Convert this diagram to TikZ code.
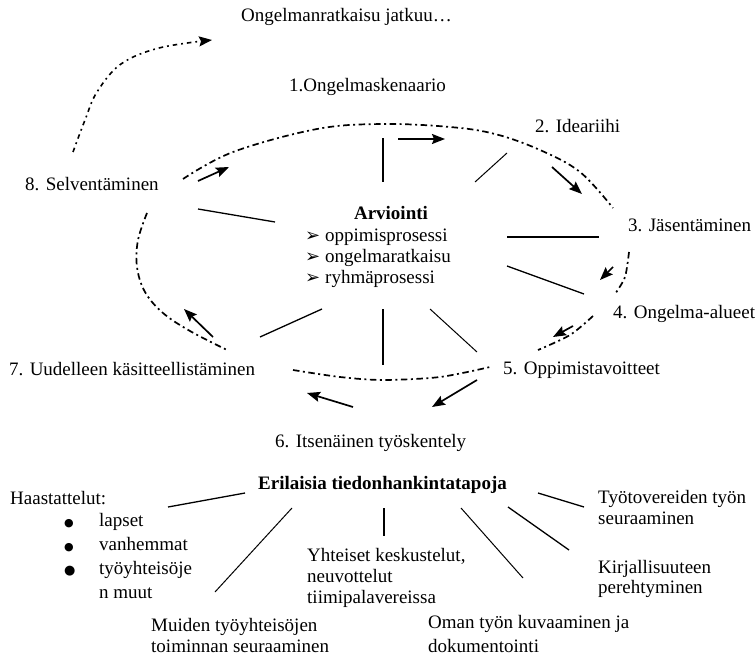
\documentclass[tikz,border=0pt]{standalone}
\usepackage{fontspec}
\setmainfont{Liberation Serif}
\newfontfamily\dingfont{DejaVu Sans}
\usetikzlibrary{arrows.meta}
% fixed height for the first line of a multi-line label: its top lies 18pt above the baseline
\newcommand{\topstrut}{\rule{0pt}{18pt}}
\newcommand{\itemmark}{\makebox[20pt][l]{\dingfont\fontsize{18}{18}\selectfont ➢}}
\newcommand{\dotmark}[1]{\makebox[35pt][l]{\dingfont\fontsize{#1}{#1}\selectfont ●}}
\begin{document}
\begin{tikzpicture}[x=1pt,y=-1pt,
  lbl/.style={inner sep=0pt, anchor=base west, align=left,
    font=\fontsize{19}{21}\selectfont},
  block/.style={lbl, anchor=north west},
  spoke/.style={line width=1.3pt},
  thinspoke/.style={line width=1pt},
  flow/.style={line width=1.7pt, -{Stealth[length=13pt,width=10pt,inset=2pt]}},
  cyclepath/.style={line width=1.7pt, dash pattern=on 6.5pt off 3.5pt on 2pt off 3.5pt},
  onward/.style={line width=1.6pt, dash pattern=on 4.5pt off 4pt on 1.8pt off 4pt,
    -{Stealth[length=13pt,width=10pt,inset=2pt]}}]
\useasboundingbox (0,0) rectangle (755,655);

% ---------- stages of the problem-based learning cycle ----------
\node[lbl] (cont) at (241,22) {Ongelmanratkaisu jatkuu…};
\node[lbl] (s1) at (289,92) {1.Ongelmaskenaario};
\node[lbl] (s2) at (535,133) {2. Ideariihi};
\node[lbl] (s3) at (628,232) {3. Jäsentäminen};
\node[lbl] (s4) at (613,318) {4. Ongelma-alueet};
\node[lbl] (s5) at (503,374) {5. Oppimistavoitteet};
\node[lbl] (s6) at (275,447) {6. Itsenäinen työskentely};
\node[lbl] (s7) at (9,375) {7. Uudelleen käsitteellistäminen};
\node[lbl] (s8) at (25,191) {8. Selventäminen};

% ---------- evaluation hub ----------
\node[lbl, anchor=base, font=\fontsize{19}{21}\selectfont\bfseries] (arv) at (391,220) {Arviointi};
\node[block] (arvlist) at (305,223)
  {\topstrut\itemmark oppimisprosessi\\ \itemmark ongelmaratkaisu\\ \itemmark ryhmäprosessi};

% ---------- ways of gathering information ----------
\node[lbl, font=\fontsize{19}{21}\selectfont\bfseries] (tools) at (258,489) {Erilaisia tiedonhankintatapoja};
\node[lbl] (haast) at (10,504) {Haastattelut:};
\node[block, font=\fontsize{19}{24}\selectfont] (haastlist) at (64,508)
  {\topstrut\dotmark{11}lapset\\ \dotmark{11}vanhemmat\\ \dotmark{13}työyhteisöje\\ \hspace*{35pt}n muut};
\node[block] (yht) at (307,543) {\topstrut Yhteiset keskustelut,\\ neuvottelut\\ tiimipalavereissa};
\node[block] (muid) at (151,613) {\topstrut Muiden työyhteisöjen\\ toiminnan seuraaminen};
\node[block, font=\fontsize{19}{24}\selectfont] (oman) at (428,610) {\topstrut Oman työn kuvaaminen ja\\ dokumentointi};
\node[block] (tyot) at (598,485) {\topstrut Työtovereiden työn\\ seuraaminen};
\node[block, font=\fontsize{19}{20}\selectfont] (kirj) at (598,555) {\topstrut Kirjallisuuteen\\ perehtyminen};

% ---------- spoke end points ----------
\coordinate (h1) at (383,182); \coordinate (o1) at (383,138);
\coordinate (h2) at (475,182); \coordinate (o2) at (507,153);
\coordinate (h3) at (275,222); \coordinate (o3) at (198,209);
\coordinate (h4) at (507,237); \coordinate (o4) at (599,237);
\coordinate (h5) at (507,266); \coordinate (o5) at (584,294);
\coordinate (h6) at (430,309); \coordinate (o6) at (477,352);
\coordinate (h7) at (383,309); \coordinate (o7) at (383,365);
\coordinate (h8) at (322,309); \coordinate (o8) at (260,337);

\coordinate (t1) at (245,493); \coordinate (u1) at (168,507);
\coordinate (t2) at (292,508); \coordinate (u2) at (215,592);
\coordinate (t3) at (384,508); \coordinate (u3) at (384,536);
\coordinate (t4) at (461,508); \coordinate (u4) at (523,578);
\coordinate (t5) at (508,507); \coordinate (u5) at (569,550);
\coordinate (t6) at (538,493); \coordinate (u6) at (584,507);

\draw[spoke] (h1) -- (o1);
\draw[thinspoke] (h2) -- (o2);
\draw[spoke] (h3) -- (o3);
\draw[spoke] (h4) -- (o4);
\draw[spoke] (h5) -- (o5);
\draw[thinspoke] (h6) -- (o6);
\draw[spoke] (h7) -- (o7);
\draw[spoke] (h8) -- (o8);

\draw[spoke] (t1) -- (u1);
\draw[thinspoke] (t2) -- (u2);
\draw[spoke] (t3) -- (u3);
\draw[thinspoke] (t4) -- (u4);
\draw[spoke] (t5) -- (u5);
\draw[spoke] (t6) -- (u6);

% ---------- direction arrows along the cycle ----------
\coordinate (a1s) at (198,181); \coordinate (a1e) at (229,167);
\coordinate (a2s) at (398,139); \coordinate (a2e) at (445,139);
\coordinate (a3s) at (552,167); \coordinate (a3e) at (582,194);
\coordinate (a4s) at (613,267); \coordinate (a4e) at (600,280);
\coordinate (a5s) at (573,326); \coordinate (a5e) at (553,337);
\coordinate (a6s) at (477,380); \coordinate (a6e) at (432,407);
\coordinate (a7s) at (353,407); \coordinate (a7e) at (307,393);
\coordinate (a8s) at (213,337); \coordinate (a8e) at (184,309);

\draw[flow] (a1s) -- (a1e);
\draw[flow] (a2s) -- (a2e);
\draw[flow] (a3s) -- (a3e);
\draw[flow] (a4s) -- (a4e);
\draw[flow] (a5s) -- (a5e);
\draw[flow] (a6s) -- (a6e);
\draw[flow] (a7s) -- (a7e);
\draw[flow] (a8s) -- (a8e);

% ---------- dash-dotted cycle ----------
\draw[cyclepath] plot[smooth, tension=0.6] coordinates
  {(183,179) (233,152) (317,129) (383,124) (450,127) (495,134) (540,150) (580,172) (613,208)};
\draw[cyclepath] plot[smooth] coordinates {(629,252) (625,277) (615,294)};
\draw[cyclepath] plot[smooth] coordinates {(593,316) (570,335) (538,350)};
\draw[cyclepath] plot[smooth] coordinates {(293,370) (340,377) (383,380) (440,377) (490,367)};
\draw[cyclepath] plot[smooth, tension=0.6] coordinates
  {(147,213) (138,240) (137,267) (145,292) (163,313) (190,331) (227,350)};

% ---------- the process continues ----------
\draw[onward] plot[smooth, tension=0.6] coordinates
  {(73,152) (85,120) (97,92) (121,64) (159,48) (212,40)};
\end{tikzpicture}
\end{document}
